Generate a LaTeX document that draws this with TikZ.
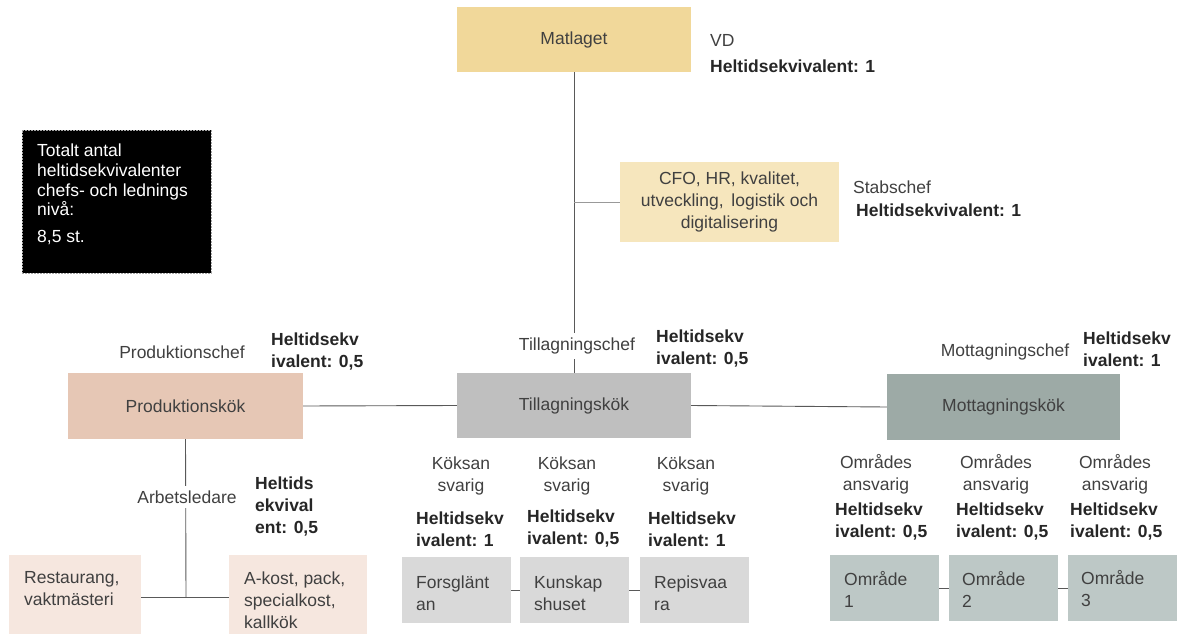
\documentclass[tikz,border=0pt]{standalone}
\usepackage{fontspec}
\setmainfont{Liberation Sans}
\definecolor{txt}{HTML}{404040}
\definecolor{btxt}{HTML}{262626}
\definecolor{cgold}{HTML}{F1D89A}
\definecolor{clgold}{HTML}{F6E6BD}
\definecolor{cprod}{HTML}{E6C7B5}
\definecolor{clprod}{HTML}{F6E7DF}
\definecolor{ctill}{HTML}{BFBFBF}
\definecolor{cltill}{HTML}{D9D9D9}
\definecolor{cmott}{HTML}{9DAAA6}
\definecolor{clmott}{HTML}{BDC8C6}
\definecolor{cline}{HTML}{595959}
\tikzset{
  box/.style={rectangle, inner sep=0pt, text=txt, font=\fontsize{17.5}{22}\selectfont},
  lbl/.style={inner sep=0pt, text=txt, font=\fontsize{17.5}{22}\selectfont, align=center},
  blbl/.style={inner sep=0pt, text=btxt, font=\fontsize{17.5}{22}\selectfont\bfseries, align=left, anchor=west},
  llbl/.style={inner sep=0pt, text=txt, font=\fontsize{17.5}{22}\selectfont, align=left, anchor=west},
  conn/.style={draw=cline, line width=0.9pt},
  lconn/.style={draw=gray!80, line width=0.9pt},
}
\begin{document}
\begin{tikzpicture}[x=1pt,y=-1pt]
\useasboundingbox (0,0) rectangle (1189,634);

% top
\node[box, fill=cgold, minimum width=234pt, minimum height=65pt] (mat) at (574,39.5) {Matlaget};
\node[llbl] (vd) at (710,40) {VD};
\node[blbl] (vdh) at (710,66) {Heltidsekvivalent: 1};

\node[box, fill=clgold, minimum width=219pt, minimum height=80pt, align=center] (cfo) at (729.5,202) {CFO, HR, kvalitet,\\utveckling,\, logistik och\\digitalisering};
\node[llbl] (stab) at (853,187) {Stabschef};
\node[blbl] (stabh) at (856,210) {Heltidsekvivalent: 1};

% black box
\node[rectangle, fill=black, draw=gray!70, dash pattern=on 2pt off 1pt, line width=0.8pt, minimum width=189pt, minimum height=143pt] (tot) at (116.5,201.5) {};
\node[inner sep=0pt, text=white, font=\fontsize{17.5}{19.7}\selectfont, align=left, anchor=north west] (tottxt) at (37,144) {Totalt antal\\heltidsekvivalenter\\chefs- och lednings\\nivå:\\[7pt]8,5 st.};

% middle row
\node[box, fill=cprod, minimum width=235pt, minimum height=66pt] (pk) at (185.5,406) {Produktionskök};
\node[box, fill=ctill, minimum width=234pt, minimum height=65pt] (tk) at (574,405.5) {Tillagningskök};
\node[box, fill=cmott, minimum width=233pt, minimum height=66pt] (mk) at (1003.5,407) {Mottagningskök};

% connectors top
\draw[conn] (mat.south) -- (tk.north);
\draw[lconn] (cfo.west) -- (cfo.west -| mat.south);
\draw[conn] (pk.east) -- (tk.west);
\draw[conn] (tk.east) -- (mk.west);

\node[lbl, fill=white, inner ysep=5pt] (tchef) at (577,346) {Tillagningschef};
\node[blbl] (tchefh) at (656,349) {Heltidsekv\\ivalent: 0,5};
\node[lbl] (pchef) at (182,352) {Produktionschef};
\node[blbl] (pchefh) at (271,352) {Heltidsekv\\ivalent: 0,5};
\node[lbl] (mchef) at (1005,352) {Mottagningschef};
\node[blbl] (mchefh) at (1083,349) {Heltidsekv\\ivalent: 1};

% production sub
\node[box, fill=clprod, minimum width=132pt, minimum height=80pt] (rest) at (75,595) {};
\node[llbl] (resttxt) at (24,589) {Restaurang,\\vaktmästeri};
\node[box, fill=clprod, minimum width=138pt, minimum height=80pt] (akost) at (298,595) {};
\node[llbl] (akosttxt) at (244,600) {A-kost, pack,\\specialkost,\\kallkök};
\coordinate (pj) at (186,597);
\draw[conn] (pk.south) -- (pj);
\draw[conn] (rest.east |- pj) -- (akost.west |- pj);
\node[lbl, fill=white, inner ysep=5pt] (arb) at (187,497) {Arbetsledare};
\node[blbl] (arbh) at (255,507) {Heltids\\ekvival\\ent: 0,5};

% tillagning sub
\node[box, fill=cltill, minimum width=109pt, minimum height=66pt] (fg) at (456.5,590) {};
\node[box, fill=cltill, minimum width=109pt, minimum height=66pt] (ks) at (574.5,590) {};
\node[box, fill=cltill, minimum width=109pt, minimum height=66pt] (rv) at (694.5,590) {};
\node[llbl] (fgt) at (416,593) {Forsglänt\\an};
\node[llbl] (kst) at (534,593) {Kunskap\\shuset};
\node[llbl] (rvt) at (654,593) {Repisvaa\\ra};
\draw[conn] (fg.east) -- (ks.west);
\draw[conn] (ks.east) -- (rv.west);
\node[lbl] (k1) at (461,476) {Köksan\\svarig};
\node[lbl] (k2) at (567,476) {Köksan\\svarig};
\node[lbl] (k3) at (686,476) {Köksan\\svarig};
\node[blbl] (k1h) at (416,529) {Heltidsekv\\ivalent: 1};
\node[blbl] (k2h) at (527,529) {Heltidsekv\\ivalent: 0,5};
\node[blbl] (k3h) at (648,529) {Heltidsekv\\ivalent: 1};

% mottagning sub
\node[box, fill=clmott, minimum width=109pt, minimum height=66pt] (o1) at (884.5,588) {};
\node[box, fill=clmott, minimum width=109pt, minimum height=66pt] (o2) at (1003.5,588) {};
\node[box, fill=clmott, minimum width=109pt, minimum height=66pt] (o3) at (1122.5,588) {};
\node[llbl] (o1t) at (844,589) {Område\\1};
\node[llbl] (o2t) at (962,589) {Område\\2};
\node[llbl] (o3t) at (1081,589) {Område\\3};
\draw[conn] (o1.east) -- (o2.west);
\draw[conn] (o2.east) -- (o3.west);
\node[lbl] (a1) at (876,474) {Områdes\\ansvarig};
\node[lbl] (a2) at (996,474) {Områdes\\ansvarig};
\node[lbl] (a3) at (1115,474) {Områdes\\ansvarig};
\node[blbl] (a1h) at (835,522) {Heltidsekv\\ivalent: 0,5};
\node[blbl] (a2h) at (956,522) {Heltidsekv\\ivalent: 0,5};
\node[blbl] (a3h) at (1070,522) {Heltidsekv\\ivalent: 0,5};
\end{tikzpicture}
\end{document}
